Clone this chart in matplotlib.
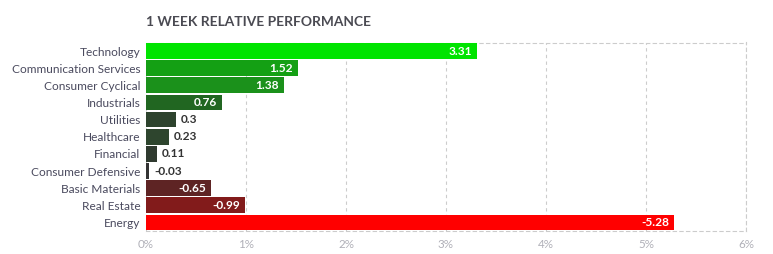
import numpy as np
import matplotlib.pyplot as plt

sectores = ['Technology', 'Communication Services', 'Consumer Cyclical', 'Industrials',
            'Utilities', 'Healthcare', 'Financial', 'Consumer Defensive',
            'Basic Materials', 'Real Estate', 'Energy']
valores = [3.31, 1.52, 1.38, 0.76, 0.3, 0.23, 0.11, -0.03, -0.65, -0.99, -5.28]
colores = ['#00e400', '#14a014', '#1b911b', '#216621', '#2d432d', '#2e452e',
           '#2f3a2f', '#333333', '#5e2424', '#821b1b', '#ff0000']
ticks = [0, 1, 2, 3, 4, 5, 6]

plt.rcParams['font.family'] = ['Lato', 'DejaVu Sans']

fig = plt.figure(figsize=(7.73, 2.54), dpi=100)
ax = fig.add_axes([146/773, 1 - 231/254, 600/773, (231 - 42.5)/254])

y = np.arange(len(sectores))
largo = np.abs(valores)
ax.barh(y, largo, height=0.92, color=colores, zorder=3)

for i, v in enumerate(valores):
    txt = '{:g}'.format(v)
    if abs(v) >= 0.5:
        ax.text(abs(v) - 0.05, i, txt, ha='right', va='center', color='white',
                fontsize=8.6, fontweight='bold', zorder=4)
    else:
        ax.text(abs(v) + 0.05, i, txt, ha='left', va='center', color='#333333',
                fontsize=8.6, fontweight='bold', zorder=4)

ax.set_xlim(0, 6)
ax.set_ylim(len(sectores) - 0.5, -0.5)
ax.set_yticks(y)
ax.set_yticklabels(sectores, fontsize=8.6, color='#4a4a5e')
ax.set_xticks(ticks)
ax.set_xticklabels(['{}%'.format(t) for t in ticks], fontsize=8.4, color='#b0b0b8')
ax.tick_params(length=0, pad=4)
ax.tick_params(axis='x', pad=6)

ax.grid(True, axis='x', linestyle=(0, (3, 3)), color='#cccccc', linewidth=0.8, zorder=0)
for lado in ['top', 'right', 'bottom']:
    ax.spines[lado].set_linestyle((0, (3, 3)))
    ax.spines[lado].set_color('#cccccc')
    ax.spines[lado].set_linewidth(0.8)
ax.spines['left'].set_visible(False)

fig.text(146/773, 1 - 22/254, '1 WEEK RELATIVE PERFORMANCE', fontsize=9.9,
         fontweight='bold', color='#4a4a52', va='center', ha='left')

fig.savefig('out.png', dpi=100)
